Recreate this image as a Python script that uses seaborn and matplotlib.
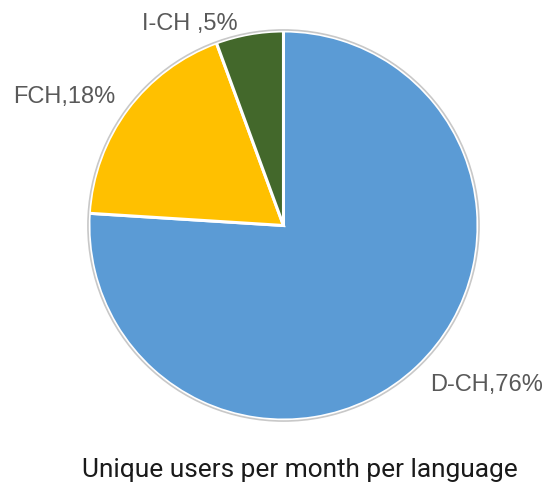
import matplotlib
matplotlib.use("Agg")
import matplotlib.pyplot as plt
import matplotlib.patches as mpatches
import seaborn as sns

# data
languages = ["D-CH", "FCH", "I-CH"]
shares = [76.0, 18.4, 5.6]
slice_labels = ["D-CH,76%", "FCH,18%", "I-CH ,5%"]
colors = ["#5B9BD5", "#FFC000", "#43682B"]

sns.set_theme(style="white")
plt.rcParams['font.family'] = ['Liberation Sans', 'DejaVu Sans']

fig = plt.figure(figsize=(5.47, 4.87), dpi=100)
ax = fig.add_axes([0.1572, 0.1314, 0.7221, 0.8111])

ax.pie(shares, colors=sns.color_palette(colors), startangle=90, counterclock=False,
       radius=0.995, wedgeprops=dict(edgecolor="white", linewidth=2.2))
ax.add_patch(mpatches.Circle((0, 0), 1.0, fill=False, edgecolor="#C8C8C8", linewidth=1.2))
ax.set_xlim(-1.01, 1.01)
ax.set_ylim(-1.01, 1.01)
ax.set_aspect("equal")
ax.axis("off")

# label anchors in figure pixels (left edge, baseline), from top-left
label_pos = [(430, 391), (13, 103), (142, 30)]
for txt, (px, py) in zip(slice_labels, label_pos):
    fig.text(px / 547, 1 - py / 487, txt, ha="left", va="baseline",
             fontsize=17, color="#595959")

fig.text(300 / 547, 1 - 477 / 487, "Unique users per month per language",
         ha="center", va="baseline", fontsize=18.9, color="#1a1a1a", family="Roboto")

fig.savefig("out.png", dpi=100)
